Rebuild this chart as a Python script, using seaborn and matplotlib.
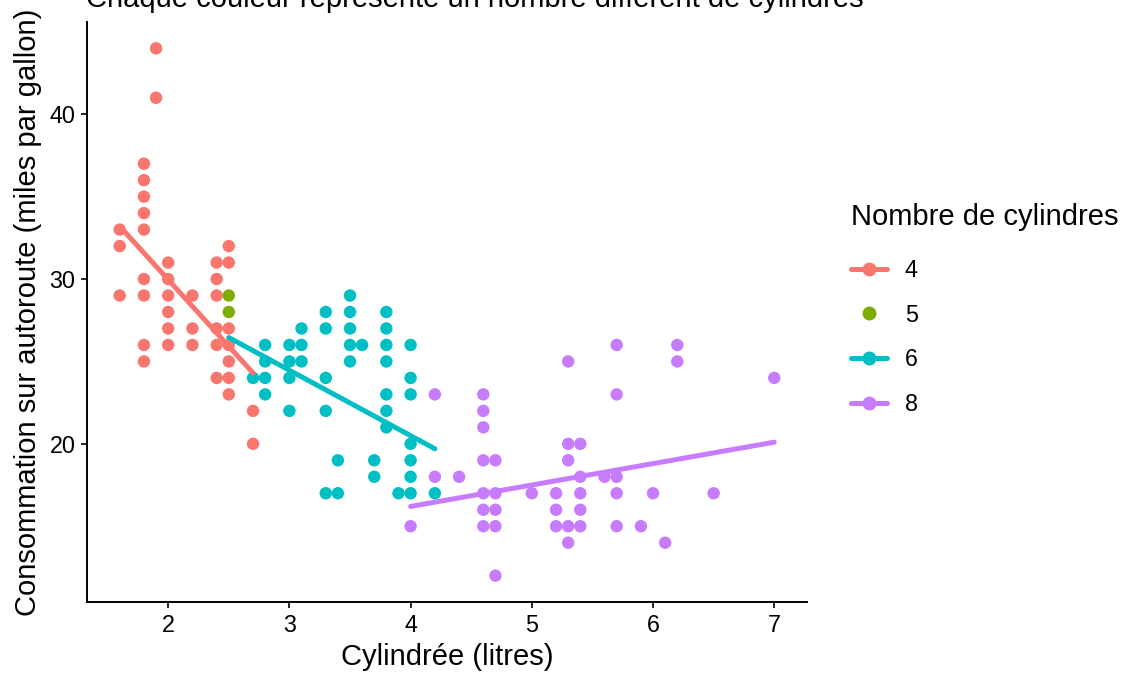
import numpy as np
import pandas as pd
import matplotlib
matplotlib.use("Agg")
import matplotlib.pyplot as plt
from matplotlib.lines import Line2D
import seaborn as sns

# Points (cylindrée, autoroute) par nombre de cylindres
displ_4 = [1.6, 1.6, 1.6,
           1.8, 1.8, 1.8, 1.8, 1.8, 1.8, 1.8, 1.8, 1.8,
           1.9, 1.9,
           2.0, 2.0, 2.0, 2.0, 2.0, 2.0,
           2.2, 2.2, 2.2,
           2.4, 2.4, 2.4, 2.4, 2.4, 2.4,
           2.5, 2.5, 2.5, 2.5, 2.5, 2.5, 2.5,
           2.7, 2.7]
hwy_4 = [33, 32, 29,
         37, 36, 35, 34, 33, 30, 29, 26, 25,
         44, 41,
         31, 30, 29, 28, 27, 26,
         29, 27, 26,
         31, 30, 29, 27, 26, 24,
         32, 31, 27, 26, 25, 24, 23,
         22, 20]

displ_5 = [2.5, 2.5]
hwy_5 = [29, 28]

displ_6 = [2.7,
           2.8, 2.8, 2.8, 2.8,
           3.0, 3.0, 3.0, 3.0,
           3.1, 3.1, 3.1,
           3.3, 3.3, 3.3, 3.3, 3.3,
           3.4, 3.4,
           3.5, 3.5, 3.5, 3.5, 3.5,
           3.6,
           3.7, 3.7,
           3.8, 3.8, 3.8, 3.8, 3.8, 3.8, 3.8,
           3.9,
           4.0, 4.0, 4.0, 4.0, 4.0, 4.0, 4.0,
           4.2]
hwy_6 = [24,
         26, 25, 24, 23,
         26, 25, 24, 22,
         27, 26, 25,
         28, 27, 24, 22, 17,
         19, 17,
         29, 28, 27, 26, 25,
         26,
         19, 18,
         28, 27, 26, 25, 23, 22, 21,
         17,
         26, 24, 23, 20, 19, 18, 17,
         17]

displ_8 = [4.0,
           4.2, 4.2,
           4.4,
           4.6, 4.6, 4.6, 4.6, 4.6, 4.6, 4.6,
           4.7, 4.7, 4.7, 4.7, 4.7,
           5.0,
           5.2, 5.2, 5.2,
           5.3, 5.3, 5.3, 5.3, 5.3,
           5.4, 5.4, 5.4, 5.4, 5.4,
           5.6,
           5.7, 5.7, 5.7, 5.7, 5.7,
           5.9, 6.0, 6.1,
           6.2, 6.2,
           6.5, 7.0]
hwy_8 = [15,
         23, 18,
         18,
         23, 22, 21, 19, 17, 16, 15,
         19, 17, 16, 15, 12,
         17,
         17, 16, 15,
         25, 20, 19, 15, 14,
         20, 18, 17, 16, 15,
         18,
         26, 23, 18, 17, 15,
         15, 17, 14,
         26, 25,
         17, 24]

# Extrémités des droites de régression
fit_cyl = ["4", "4", "6", "6", "8", "8"]
fit_displ = [1.6, 2.7, 2.5, 4.2, 4.0, 7.0]
fit_hwy = [33.2, 24.3, 26.45, 19.7, 16.2, 20.1]

cyl_levels = ["4", "5", "6", "8"]
palette = {"4": "#F8766D", "5": "#7CAE00", "6": "#00BFC4", "8": "#C77CFF"}

df = pd.DataFrame({
    "displ": displ_4 + displ_5 + displ_6 + displ_8,
    "hwy": hwy_4 + hwy_5 + hwy_6 + hwy_8,
    "cyl": ["4"] * len(displ_4) + ["5"] * len(displ_5)
           + ["6"] * len(displ_6) + ["8"] * len(displ_8),
})
fits = pd.DataFrame({"displ": fit_displ, "hwy": fit_hwy, "cyl": fit_cyl})

sns.set_theme(style="ticks")
plt.rcParams["font.family"] = ["Liberation Sans", "DejaVu Sans"]
plt.rcParams["text.color"] = "black"
plt.rcParams["axes.labelcolor"] = "black"

fig = plt.figure(figsize=(11.25, 6.74), dpi=100)
ax = fig.add_axes([0.0773, 0.1068, 0.64, 0.8606])

sns.scatterplot(data=df, x="displ", y="hwy", hue="cyl", hue_order=cyl_levels,
                palette=palette, s=80, linewidth=0, ax=ax, legend=False, zorder=2)
sns.lineplot(data=fits, x="displ", y="hwy", hue="cyl", palette=palette,
             linewidth=3.6, ax=ax, legend=False, zorder=3)

ax.set_xlim(1.33, 7.27)
ax.set_ylim(10.4, 45.6)
ax.set_xticks([2, 3, 4, 5, 6, 7])
ax.set_yticks([20, 30, 40])
ax.tick_params(axis="both", labelsize=16.8, colors="black", length=4.3, width=1.2, pad=4)
for side in ["left", "bottom"]:
    ax.spines[side].set_linewidth(1.4)
    ax.spines[side].set_color("black")
sns.despine(ax=ax)

ax.set_xlabel("Cylindrée (litres)", fontsize=21, labelpad=5)
ax.set_ylabel("Consommation sur autoroute (miles par gallon)", fontsize=21, labelpad=5)

fig.text(0.0765, 1 - 7 / 674, "Chaque couleur représente un nombre différent de cylindres",
         fontsize=21, ha="left", va="baseline")

handles = []
for c in cyl_levels:
    if c == "5":
        handles.append(Line2D([0], [0], color=palette[c], lw=0, marker="o", markersize=9))
    else:
        handles.append(Line2D([0], [0], color=palette[c], lw=3.6, marker="o", markersize=9))
leg = fig.legend(handles, cyl_levels, title="Nombre de cylindres",
                 loc="upper left", bbox_to_anchor=(0.7375, 0.73),
                 frameon=False, fontsize=16.8, title_fontsize=21,
                 handlelength=1.55, handletextpad=0.77, labelspacing=0.93)
leg._legend_box.align = "left"
leg._legend_box.sep += 4.5

fig.savefig("out.png", dpi=100)
